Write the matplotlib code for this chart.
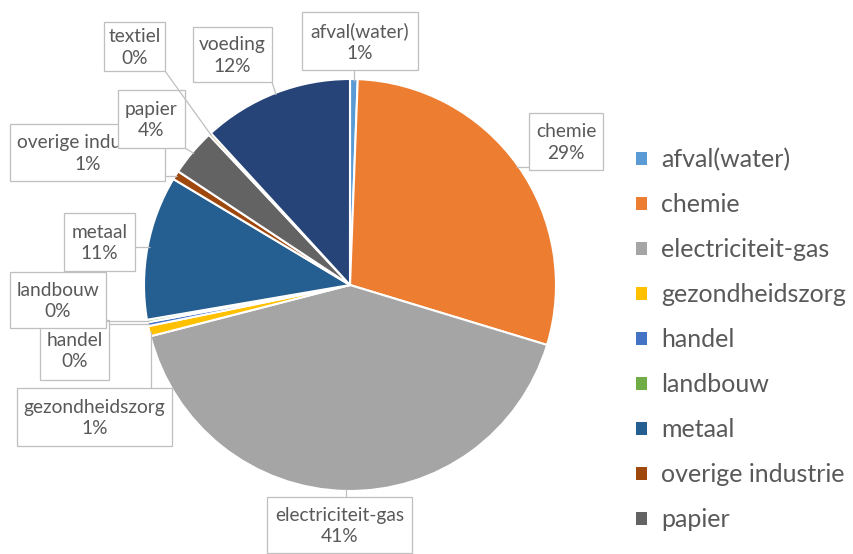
import numpy as np
import matplotlib
matplotlib.use("Agg")
import matplotlib.pyplot as plt
from matplotlib.patches import Rectangle

# ---- data ----
categories = ["afval(water)", "chemie", "electriciteit-gas", "gezondheidszorg",
              "handel", "landbouw", "metaal", "overige industrie", "papier",
              "textiel", "voeding"]
values = [0.6, 29.1, 41.3, 0.8, 0.3, 0.2, 11.3, 0.7, 3.7, 0.2, 11.8]
colors = ["#5B9BD5", "#ED7D31", "#A5A5A5", "#FFC000", "#4472C4", "#70AD47",
          "#255E91", "#9E480E", "#636363", "#997300", "#264478"]
legend_count = 9

# ---- layout (pixels, y measured from top) ----
W, H = 854, 554
cx, cy, R = 350, 285, 206
label_boxes = {
    "afval(water)": (302, 12, 418, 70),
    "chemie": (529, 113, 603, 170),
    "electriciteit-gas": (267, 497, 412, 553),
    "gezondheidszorg": (17, 388, 172, 446),
    "handel": (40, 320, 109, 380),
    "landbouw": (10, 272, 106, 328),
    "metaal": (64, 213, 135, 271),
    "overige industrie": (10, 124, 165, 181),
    "papier": (118, 90, 185, 148),
    "textiel": (104, 22, 165, 71),
    "voeding": (193, 27, 272, 82),
}
draw_order = ["afval(water)", "chemie", "electriciteit-gas", "gezondheidszorg",
              "handel", "landbouw", "metaal", "overige industrie", "papier",
              "textiel", "voeding"]

plt.rcParams['font.family'] = ['Lato', 'DejaVu Sans']
txt_color = "#595959"

fig = plt.figure(figsize=(W / 100, H / 100), dpi=100)
fig.patch.set_facecolor("white")

ax = fig.add_axes([(cx - R) / W, (H - cy - R) / H, 2 * R / W, 2 * R / H])
wedges, _ = ax.pie(values, colors=colors, startangle=90, counterclock=False,
                   radius=1.0,
                   wedgeprops=dict(edgecolor="white", linewidth=1.5))
ax.set_xlim(-1, 1)
ax.set_ylim(-1, 1)
ax.set_aspect("equal")
ax.axis("off")

# overlay in pixel coordinates
ov = fig.add_axes([0, 0, 1, 1])
ov.set_xlim(0, W)
ov.set_ylim(H, 0)
ov.axis("off")
ov.patch.set_alpha(0)

total = sum(values)
for i, name in enumerate(draw_order):
    idx = categories.index(name)
    w = wedges[idx]
    mid = np.deg2rad((w.theta1 + w.theta2) / 2)
    axp = cx + 0.99 * R * np.cos(mid)
    ayp = cy - 0.99 * R * np.sin(mid)
    x0, y0, x1, y1 = label_boxes[name]
    nx = min(max(axp, x0), x1)
    ny = min(max(ayp, y0), y1)
    ov.plot([nx, axp], [ny, ayp], color="#bfbfbf", lw=0.9, zorder=2 + 2 * i,
            solid_capstyle="butt")
    rect = Rectangle((x0, y0), x1 - x0, y1 - y0, facecolor="white",
                     edgecolor="#bfbfbf", lw=0.9, zorder=3 + 2 * i)
    ov.add_patch(rect)
    pct = round(values[idx] / total * 100)
    t = ov.text((x0 + x1) / 2, (y0 + y1) / 2 + 1, f"{name}\n{pct}%", ha="center",
                va="center", fontsize=13.8, color=txt_color, linespacing=1.3,
                zorder=3 + 2 * i)
    clip = Rectangle((x0, y0), x1 - x0, y1 - y0, transform=ov.transData)
    t.set_clip_path(clip)

leg = fig.legend(wedges[:legend_count], categories[:legend_count],
                 loc="upper left", bbox_to_anchor=(636 / W, 1 - 148 / H),
                 frameon=False, fontsize=18, handlelength=0.45,
                 handleheight=0.45, handletextpad=0.55, labelspacing=0.88,
                 borderpad=0, borderaxespad=0)
for t in leg.get_texts():
    t.set_color(txt_color)
for h in leg.legend_handles:
    h.set_edgecolor("none")

fig.savefig("out.png", dpi=100, facecolor="white")
